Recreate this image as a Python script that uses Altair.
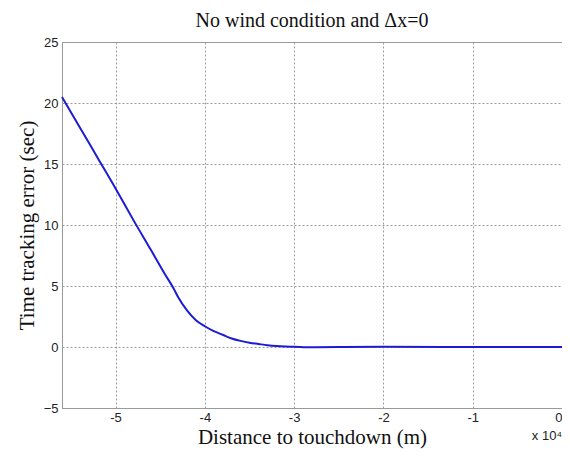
import altair as alt
import pandas as pd

distance = [-56000, -54000, -52000, -50000, -48000, -46000, -44500, -43500, -43000,
            -42000, -41000, -40000, -39000, -38000, -37000, -36000, -35000, -34000,
            -33000, -32000, -31000, -30000, -28000, -25000, -20000, -10000, 0]
error = [20.5, 18.0, 15.5, 13.0, 10.4, 7.9, 6.0, 4.8, 4.1,
         3.0, 2.2, 1.7, 1.3, 1.0, 0.7, 0.5, 0.35, 0.25,
         0.15, 0.08, 0.04, 0.02, -0.02, 0.0, 0.02, 0.0, 0.0]
x_ticks = [-50000, -40000, -30000, -20000, -10000, 0]
y_ticks = [-5, 0, 5, 10, 15, 20, 25]

df = pd.DataFrame({"d": distance, "e": error})

W, H = 500, 366

line = alt.Chart(df).mark_line(color="#1c1cd6", strokeWidth=2, interpolate="monotone").encode(
    x=alt.X("d:Q", scale=alt.Scale(domain=[-56000, 0], nice=False, zero=False),
            axis=alt.Axis(values=x_ticks, labelExpr="datum.value / 10000",
                          title="Distance to touchdown (m)")),
    y=alt.Y("e:Q", scale=alt.Scale(domain=[-5, 25], nice=False),
            axis=alt.Axis(values=y_ticks, title="Time tracking error (sec)")),
)

exp_label = alt.Chart(pd.DataFrame({"d": [0], "t": ["x 10⁴"]})).mark_text(
    font="Liberation Sans", fontSize=13, color="#222", align="right", baseline="middle"
).encode(x="d:Q", y=alt.value(H + 28), text="t:N")

chart = (line + exp_label).properties(
    width=W, height=H,
    title=alt.TitleParams("No wind condition and Δx=0", font="Liberation Serif",
                          fontSize=20, fontWeight="normal", color="#111", offset=5),
    autosize=alt.AutoSizeParams(type="none"),
    padding={"left": 54, "top": 34, "right": 0, "bottom": 43},
).configure_axis(
    labelFont="Liberation Sans", labelFontSize=13, labelColor="#222",
    titleFont="Liberation Serif", titleFontSize=21, titleFontWeight="normal", titleColor="#111",
    grid=True, gridDash=[2, 2], gridColor="#9a9a9a", gridOpacity=1,
    domainColor="#999", ticks=False, labelPadding=4,
).configure_axisX(titlePadding=2, labelPadding=3).configure_axisY(titlePadding=6).configure_view(
    stroke="#999", strokeWidth=1
)

chart.save("out.html", embed_options={"renderer": "svg", "actions": False})
